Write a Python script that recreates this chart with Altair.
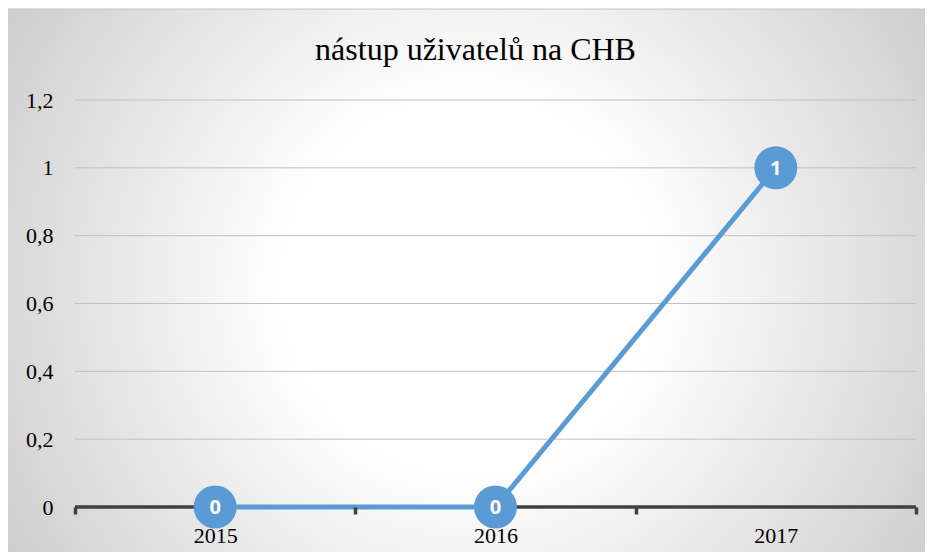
import altair as alt
import pandas as pd

years = ["2015", "2016", "2017"]
values = [0, 0, 1]
y_ticks = [0, 0.2, 0.4, 0.6, 0.8, 1.0, 1.2]
grid_vals = [0.2, 0.4, 0.6, 0.8, 1.0, 1.2]
title_text = "nástup uživatelů na CHB"

W, H = 841, 407
df = pd.DataFrame({"year": years, "value": values})
grid_df = pd.DataFrame({"value": grid_vals})
bg_df = pd.DataFrame({"k": [0]})

LINE = "#5B9BD5"
SERIF = "Liberation Serif"

xscale = alt.Scale(type="band", paddingInner=0, paddingOuter=0, domain=years)
yscale = alt.Scale(domain=[0, 1.2], nice=False, zero=True)

yaxis = alt.Axis(
    values=y_ticks, grid=False, domain=False, ticks=False,
    labelFont=SERIF, labelFontSize=22, labelColor="#000000",
    labelPadding=22, zindex=1,
    labelExpr="replace(format(datum.value, '~g'), '.', ',')",
)

bg = alt.Chart(bg_df).mark_rect(
    fill={
        "gradient": "radial",
        "x1": 0.5, "y1": 0.5, "r1": 0,
        "x2": 0.5, "y2": 0.5, "r2": 0.72,
        "stops": [
            {"offset": 0, "color": "#ffffff"},
            {"offset": 0.28, "color": "#ffffff"},
            {"offset": 1, "color": "#bbbbbb"},
        ],
    },
    stroke="#c4c4c4",
    strokeWidth=1,
).encode(
    x=alt.value(-69), x2=alt.value(W + 17),
    y=alt.value(-91), y2=alt.value(H + 53),
)

grid = alt.Chart(grid_df).mark_rule(color="#c0c0c0", strokeWidth=1).encode(
    y=alt.Y("value:Q", scale=yscale, title=None, axis=yaxis)
)

domain = alt.Chart(bg_df).mark_rule(color="#404040", strokeWidth=3.5).encode(
    y=alt.datum(0, scale=yscale, axis=yaxis)
)

base = alt.Chart(df).encode(
    x=alt.X(
        "year:O", scale=xscale, bandPosition=0.5, title=None,
        axis=alt.Axis(
            domain=False, ticks=True, tickBand="extent", tickSize=7,
            tickWidth=3.5, tickColor="#404040", labelAngle=0,
            labelFont=SERIF, labelFontSize=22, labelColor="#000000",
            labelPadding=11, grid=False, zindex=1,
        ),
    ),
    y=alt.Y("value:Q", scale=yscale, title=None, axis=yaxis),
)

line = base.mark_line(color=LINE, strokeWidth=5)
pts = base.mark_point(filled=True, size=1850, color=LINE, opacity=1)
txt = base.mark_text(
    color="white", font="Noto Sans", fontWeight="bold", fontSize=20,
    baseline="middle", align="center", dy=1,
).encode(text=alt.Text("value:Q"))

chart = alt.layer(bg, grid, domain, line, pts, txt).properties(
    width=W, height=H,
    title=alt.TitleParams(
        title_text, font=SERIF, fontSize=32, fontWeight="normal",
        color="#000000", anchor="middle", dx=-20, offset=0, dy=83.5,
        baseline="alphabetic", zindex=1,
    ),
    autosize=alt.AutoSizeParams(type="none"),
    padding={"left": 67, "top": 92, "right": 9, "bottom": 45},
).configure_view(stroke=None).configure_axis(
    labelFont=SERIF, labelFontSize=22, labelColor="#000000"
).configure(background="white")

chart.save("out.html", embed_options={"renderer": "svg", "actions": False})
